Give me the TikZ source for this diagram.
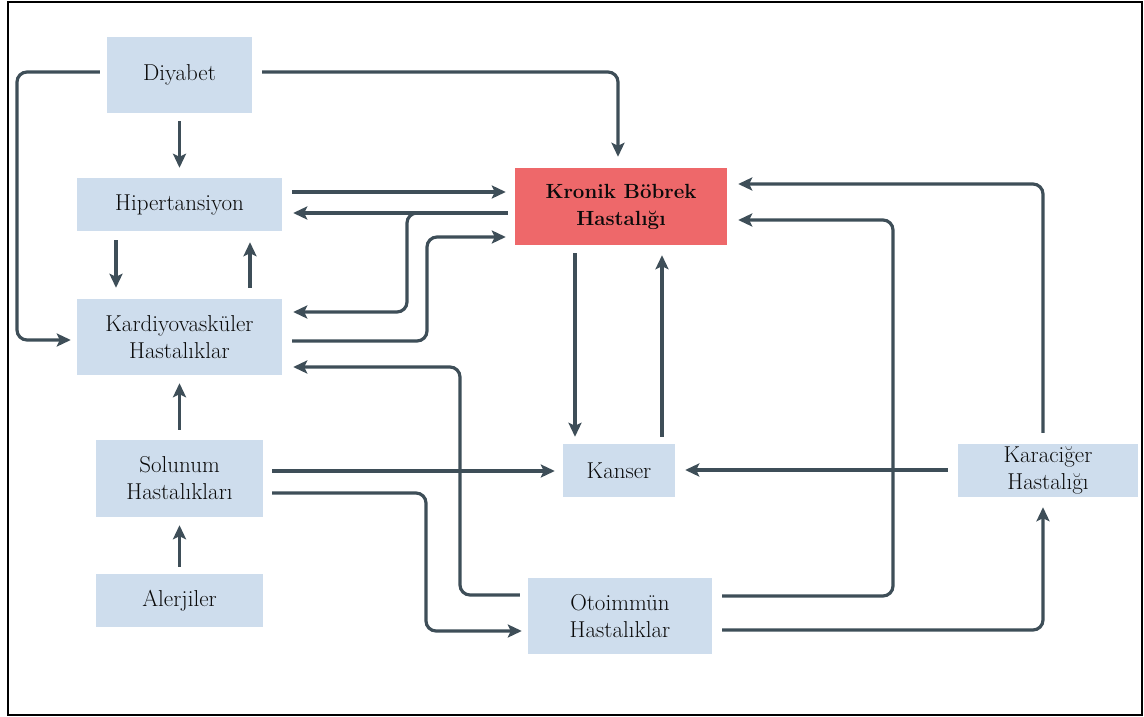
\documentclass[tikz,border=0pt]{standalone}
\usepackage{fontspec}
\usetikzlibrary{arrows.meta,calc}
\definecolor{boxblue}{RGB}{206,221,237}
\definecolor{kbhred}{RGB}{238,104,106}
\definecolor{linecol}{RGB}{62,78,88}
\definecolor{txtcol}{RGB}{10,10,10}
\begin{document}
\begin{tikzpicture}[x=1pt,y=-1pt,
  box/.style={fill=boxblue,draw=none,inner sep=0pt,align=center,text=txtcol,
    font=\fontsize{23}{27}\selectfont},
  redbox/.style={box,fill=kbhred,font=\fontsize{20.5}{27}\selectfont\bfseries},
  arr/.style={draw=linecol,line width=3.2pt,rounded corners=10pt,
    -{Stealth[length=14pt,width=13pt,inset=3pt]}}]
\useasboundingbox (0,0) rectangle (1144,717);
\draw[line width=2.2pt] (8,2) rectangle (1142,715);

\node[box,minimum width=145pt,minimum height=76pt] (dia) at (179.5,75) {Diyabet};
\node[box,minimum width=205pt,minimum height=53pt] (hip) at (179.5,204.5) {Hipertansiyon};
\node[box,minimum width=205pt,minimum height=76pt] (kar) at (179.5,337) {Kardiyovasküler\\Hastalıklar};
\node[box,minimum width=167pt,minimum height=77pt] (sol) at (179.5,478.5) {Solunum\\Hastalıkları};
\node[box,minimum width=167pt,minimum height=53pt] (ale) at (179.5,600.5) {Alerjiler};
\node[redbox,minimum width=212pt,minimum height=77pt] (kbh) at (621,206.5) {Kronik Böbrek\\Hastalığı};
\node[box,minimum width=112pt,minimum height=53pt] (kan) at (619,470.5) {Kanser};
\node[box,minimum width=184pt,minimum height=76pt] (oto) at (620,616) {Otoimmün\\Hastalıklar};
\node[box,minimum width=180pt,minimum height=53pt] (krc) at (1048,470.5) {Karaciğer\\Hastalığı};

% Diyabet
\draw[arr] ($(dia.west)+(-7,-3)$) -- (17,72) -- (17,340) -- ($(kar.west)+(-6,3)$);
\draw[arr] ($(dia.east)+(10,-3)$) -- (618,72) -- ($(kbh.north)+(-3,-11)$);
\draw[arr] ($(dia.south)+(0,8)$) -- ($(hip.north)+(0,-10)$);
% Hipertansiyon <-> Kardiyovaskuler
\draw[arr] ($(hip.south)+(-63.5,9)$) -- ($(kar.north)+(-63.5,-11)$);
\draw[arr] ($(kar.north)+(70.5,-11)$) -- ($(hip.south)+(70.5,11)$);
% Hipertansiyon <-> KBH
\draw[arr] ($(hip.east)+(10,-12.5)$) -- ($(kbh.west)+(-9,-14.5)$);
\draw[arr] ($(kbh.west)+(-7,6.5)$) -- ($(hip.east)+(11,8.5)$);
% KBH <-> Kardiyovaskuler
\draw[arr] ($(kbh.west)+(-7,6.5)$) -- (407,213) -- (407,312) -- ($(kar.east)+(11,-25)$);
\draw[arr] ($(kar.east)+(10,4)$) -- (427,341) -- (427,237) -- ($(kbh.west)+(-9,30.5)$);
% Otoimmun -> Kardiyovaskuler
\draw[arr] ($(oto.west)+(-8,-21)$) -- (460,595) -- (460,367) -- ($(kar.east)+(11,30)$);
% Solunum
\draw[arr] ($(sol.east)+(9,-7.5)$) -- ($(kan.west)+(-8,0.5)$);
\draw[arr] ($(sol.east)+(9,14.5)$) -- (426,493) -- (426,631) -- ($(oto.west)+(-6,15)$);
\draw[arr] ($(sol.north)+(0,-10)$) -- ($(kar.south)+(0,8)$);
\draw[arr] ($(ale.north)+(0,-7)$) -- ($(sol.south)+(0,8)$);
% KBH <-> Kanser
\draw[arr] ($(kbh.south)+(-46,8)$) -- ($(kan.north)+(-44,-7)$);
\draw[arr] ($(kan.north)+(43,-7)$) -- ($(kbh.south)+(41,10)$);
% Karaciger
\draw[arr] ($(krc.west)+(-10,-0.5)$) -- ($(kan.east)+(10,-0.5)$);
\draw[arr] ($(krc.north)+(-5,-11)$) -- (1043,184) -- ($(kbh.east)+(11,-22.5)$);
% Otoimmun -> KBH, Karaciger
\draw[arr] ($(oto.east)+(10,-20)$) -- (893,596) -- (893,220) -- ($(kbh.east)+(11,13.5)$);
\draw[arr] ($(oto.east)+(10,14)$) -- (1043,630) -- ($(krc.south)+(-5,10)$);
\end{tikzpicture}
\end{document}
